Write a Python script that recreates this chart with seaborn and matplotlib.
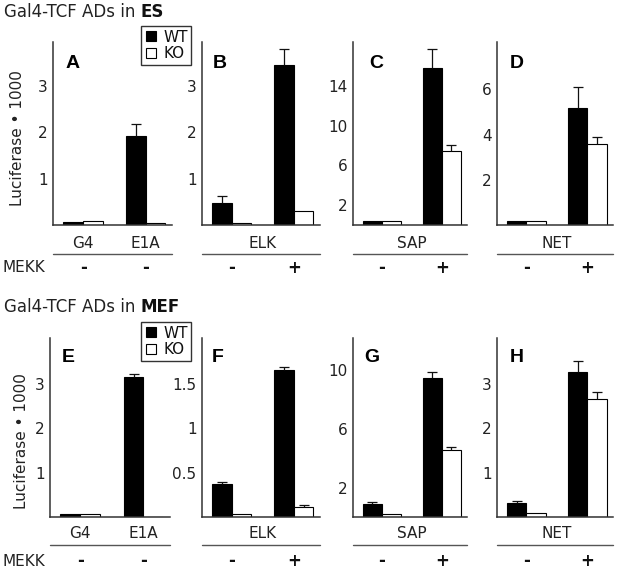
import matplotlib
matplotlib.use("Agg")
import pandas as pd
import seaborn as sns
import matplotlib.pyplot as plt
import matplotlib.transforms as mtransforms
from matplotlib.lines import Line2D

# ---- data (luciferase x 1000) ----
genotypes = ["WT", "KO"]
mekk_signs = ["-", "+"]

# ES cells
a_groups = ["G4", "E1A"]
a_wt = [0.07, 1.91]
a_wt_err = [0.0, 0.26]
a_ko = [0.08, 0.04]
a_ko_err = [0.0, 0.0]

b_wt = [0.47, 3.44]
b_wt_err = [0.15, 0.34]
b_ko = [0.04, 0.30]
b_ko_err = [0.0, 0.0]

c_wt = [0.4, 15.8]
c_wt_err = [0.0, 1.9]
c_ko = [0.4, 7.4]
c_ko_err = [0.0, 0.6]

d_wt = [0.18, 5.2]
d_wt_err = [0.0, 0.93]
d_ko = [0.18, 3.58]
d_ko_err = [0.0, 0.31]

# MEF cells
e_wt = [0.06, 3.15]
e_wt_err = [0.0, 0.07]
e_ko = [0.06, 0.0]
e_ko_err = [0.0, 0.0]

f_wt = [0.37, 1.66]
f_wt_err = [0.025, 0.037]
f_ko = [0.03, 0.11]
f_ko_err = [0.0, 0.02]

g_wt = [0.9, 9.5]
g_wt_err = [0.11, 0.39]
g_ko = [0.2, 4.6]
g_ko_err = [0.0, 0.16]

h_wt = [0.31, 3.27]
h_wt_err = [0.04, 0.24]
h_ko = [0.08, 2.66]
h_ko_err = [0.0, 0.15]

sns.set_style("white")
plt.rcParams["font.family"] = ["DejaVu Sans"]
plt.rcParams["font.size"] = 11

W, H = 619, 570
fig = plt.figure(figsize=(W / 100, H / 100), dpi=100)


def px_axes(x0, x1, ytop, ybot):
    return fig.add_axes([x0 / W, 1 - ybot / H, (x1 - x0) / W, (ybot - ytop) / H])


def draw_panel(ax, groups, wt, wt_err, ko, ko_err, ymax, yticks):
    n = len(groups)
    df = pd.DataFrame({
        "group": list(groups) * 2,
        "genotype": ["WT"] * n + ["KO"] * n,
        "value": list(wt) + list(ko),
    })
    sns.barplot(data=df, x="group", y="value", hue="genotype", hue_order=genotypes,
                palette={"WT": "black", "KO": "white"}, edgecolor="black",
                linewidth=0.8, width=0.63, errorbar=None, legend=False, ax=ax)
    # one-sided error bars, cap only on top
    for cont, errs in zip(ax.containers, [wt_err, ko_err]):
        for bar, e in zip(cont, errs):
            if e > 0:
                xc = bar.get_x() + bar.get_width() / 2
                top = bar.get_height()
                ax.errorbar(xc, top, yerr=[[0], [e]], color="#111", elinewidth=0.9, capsize=0)
                ax.plot([xc], [top + e], marker="_", markersize=7, mew=0.9, color="#111")
    ax.set_xlim(-0.48, 1.42)
    ax.set_ylim(0, ymax)
    ax.set_yticks(yticks)
    ax.set_yticklabels([f"{t:g}" for t in yticks])
    ax.set_xticks([])
    ax.set_xlabel("")
    ax.set_ylabel("")
    ax.tick_params(axis="y", length=0, pad=4, labelsize=11, labelcolor="#222")
    sns.despine(ax=ax)
    for s in ["left", "bottom"]:
        ax.spines[s].set_color("#333")
        ax.spines[s].set_linewidth(1.1)


def under_labels(ax, labels, xs, ylab, yline, ysign, signs):
    tr = mtransforms.blended_transform_factory(ax.transData, fig.transFigure)
    for lab, x in zip(labels, xs):
        ax.text(x, 1 - ylab / H, lab, transform=tr, ha="center", va="center",
                fontsize=11, color="#222")
    trl = mtransforms.blended_transform_factory(ax.transAxes, fig.transFigure)
    ax.add_line(Line2D([0, 1.0], [1 - yline / H] * 2, transform=trl,
                       color="#555", lw=1, clip_on=False))
    for s, x in zip(signs, [0, 1]):
        ax.text(x, 1 - ysign / H, s, transform=tr, ha="center", va="center",
                fontsize=12, fontweight="bold", color="#111")


rows = [
    dict(ytop=42, ybot=225, ylab=243, yline=254, ysign=268, ttl_y=12, cell="ES",
         ylabel_xy=(18, 138),
         xs=[(53, 172), (202, 320), (353, 467), (497, 613)],
         letters=["A", "B", "C", "D"], letter_xy=[(73, 63), (220, 63), (376, 63), (517, 63)],
         data=[(a_wt, a_wt_err, a_ko, a_ko_err, 3.94, [1, 2, 3]),
               (b_wt, b_wt_err, b_ko, b_ko_err, 3.94, [1, 2, 3]),
               (c_wt, c_wt_err, c_ko, c_ko_err, 18.4, [2, 6, 10, 14]),
               (d_wt, d_wt_err, d_ko, d_ko_err, 8.1, [2, 4, 6])]),
    dict(ytop=338, ybot=517, ylab=534, yline=545, ysign=561, ttl_y=307, cell="MEF",
         ylabel_xy=(22, 441),
         xs=[(50, 170), (202, 320), (353, 467), (497, 613)],
         letters=["E", "F", "G", "H"], letter_xy=[(68, 358), (218, 358), (372, 358), (517, 358)],
         data=[(e_wt, e_wt_err, e_ko, e_ko_err, 4.04, [1, 2, 3]),
               (f_wt, f_wt_err, f_ko, f_ko_err, 2.02, [0.5, 1, 1.5]),
               (g_wt, g_wt_err, g_ko, g_ko_err, 12.2, [2, 6, 10]),
               (h_wt, h_wt_err, h_ko, h_ko_err, 4.04, [1, 2, 3])]),
]
reporters = ["ELK", "SAP", "NET"]

for row in rows:
    for i, ((x0, x1), d) in enumerate(zip(row["xs"], row["data"])):
        ax = px_axes(x0, x1, row["ytop"], row["ybot"])
        groups = a_groups if i == 0 else mekk_signs
        draw_panel(ax, groups, *d)
        if i == 0:
            under_labels(ax, a_groups, [0, 1], row["ylab"], row["yline"], row["ysign"], ["-", "-"])
        else:
            under_labels(ax, [reporters[i - 1]], [0.5], row["ylab"], row["yline"], row["ysign"], mekk_signs)
        lx, ly = row["letter_xy"][i]
        fig.text(lx / W, 1 - ly / H, row["letters"][i], ha="center", va="center",
                 fontsize=14, fontweight="bold", color="black", family=["Liberation Sans"])

    t = fig.text(4 / W, 1 - row["ttl_y"] / H, "Gal4-TCF ADs in ", ha="left", va="center",
                 fontsize=12, color="#222")
    fig.add_artist(plt.Annotation(row["cell"], xy=(1, 0), xycoords=t, ha="left", va="bottom",
                                  fontsize=12, fontweight="bold", color="#111"))
    fig.text(row["ylabel_xy"][0] / W, 1 - row["ylabel_xy"][1] / H, "Luciferase \u2022 1000",
             rotation=90, ha="center", va="center", fontsize=11, color="#222")
    fig.text(3 / W, 1 - row["ysign"] / H, "MEKK", ha="left", va="center", fontsize=11, color="#222")

    handles = [Line2D([], [], marker="s", linestyle="none", markersize=7,
                      markerfacecolor=c, markeredgecolor="black", markeredgewidth=0.8)
               for c in ["black", "white"]]
    fig.legend(handles, genotypes, loc="upper left",
               bbox_to_anchor=(141 / W, 1 - (row["ytop"] - 16) / H), borderaxespad=0,
               fontsize=11, frameon=True, fancybox=False, edgecolor="black",
               handlelength=0.8, handletextpad=0.4, borderpad=0.25, labelspacing=0.1,
               labelcolor="#111")

fig.savefig("out.png", dpi=100, facecolor="white")
